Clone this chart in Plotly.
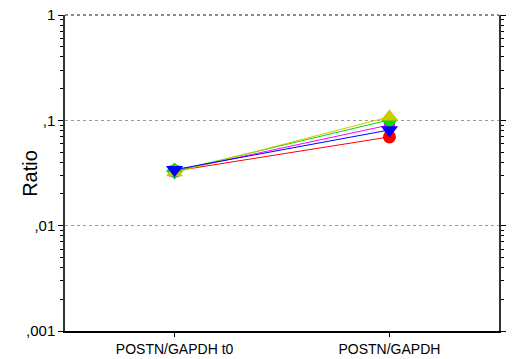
import plotly.graph_objects as go

categories = ["POSTN/GAPDH t0", "POSTN/GAPDH"]
series_names = ["red", "magenta", "green", "yellow", "blue"]
red_vals = [0.033, 0.0696]
magenta_vals = [0.033, 0.0904]
green_vals = [0.033, 0.101]
yellow_vals = [0.032, 0.108]
blue_vals = [0.034, 0.081]
y_tick_vals = [0.001, 0.01, 0.1, 1]
y_tick_text = [",001", ",01", ",1", "1"]

styles = [
    (red_vals, "#FF0000", "circle", 13),
    (magenta_vals, "#FF00FF", "square", 11),
    (green_vals, "#00E000", "diamond", 13),
    (yellow_vals, "#D0C800", "triangle-up", 15),
    (blue_vals, "#0000FF", "triangle-down", 15),
]

fig = go.Figure()
for name, (vals, col, sym, sz) in zip(series_names, styles):
    fig.add_trace(go.Scatter(
        x=categories, y=vals, mode="lines+markers", name=name,
        line=dict(color=col, width=1),
        marker=dict(color=col, symbol=sym, size=sz, line=dict(width=0)),
        showlegend=False,
    ))

minor_vals = [m * 10 ** e for e in (-3, -2, -1) for m in range(2, 10)]

fig.update_layout(
    width=512, height=359,
    margin=dict(l=65, r=13, t=15, b=28),
    paper_bgcolor="white", plot_bgcolor="white",
    font=dict(family="Liberation Sans, Arial, sans-serif", color="black", size=13),
    xaxis=dict(
        type="category", range=[-0.51, 1.51],
        showline=True, linecolor="black", linewidth=2,
        ticks="outside", ticklen=4, tickcolor="black",
        showgrid=False, zeroline=False, mirror=False,
        tickfont=dict(size=14), automargin=False,
    ),
    yaxis=dict(
        type="log", range=[-3, 0],
        tickvals=y_tick_vals, ticktext=y_tick_text,
        showline=True, linecolor="#333333", linewidth=1.5,
        ticks="outside", ticklen=5, tickcolor="black",
        mirror="ticks",
        showgrid=True, gridcolor="#999999", griddash="dot", gridwidth=1,
        zeroline=False, automargin=False,
        minor=dict(tickvals=minor_vals, ticks="outside", ticklen=3, tickcolor="black", showgrid=False),
        tickfont=dict(size=15),
    ),
)

fig.add_annotation(text="Ratio", xref="paper", yref="paper", x=-0.081, y=0.5,
                   xanchor="center", yanchor="middle", textangle=-90, showarrow=False,
                   font=dict(size=20))

fig.add_shape(type="line", xref="paper", yref="paper", x0=0, x1=1, y0=1, y1=1,
              line=dict(color="#666666", width=1.5, dash="dot"))

fig.write_html("out.html")
